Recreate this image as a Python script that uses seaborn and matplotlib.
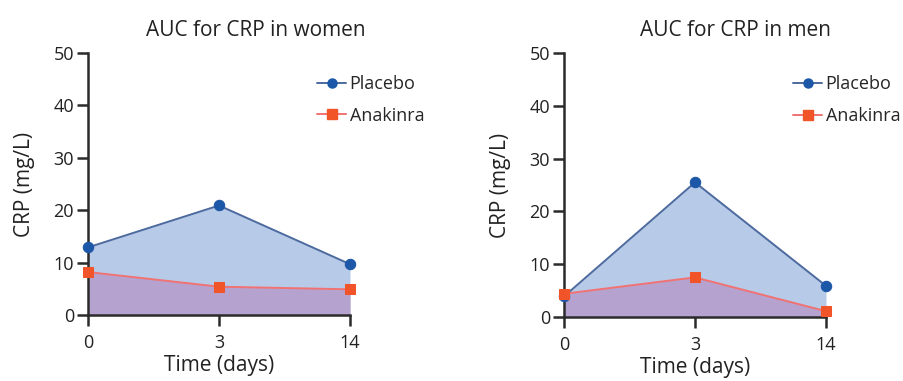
import numpy as np
import pandas as pd
import matplotlib
matplotlib.use("Agg")
import matplotlib.pyplot as plt
from matplotlib.lines import Line2D
import seaborn as sns

days = ["0", "3", "14"]
women_placebo = [12.9, 20.9, 9.7]
women_anakinra = [8.2, 5.4, 4.9]
men_placebo = [3.9, 25.5, 5.9]
men_anakinra = [4.4, 7.5, 1.1]
titles = ["AUC for CRP in women", "AUC for CRP in men"]
yticks = [0, 10, 20, 30, 40, 50]

sns.set_style("white")
plt.rcParams['font.family'] = ['Open Sans', 'DejaVu Sans']

fig = plt.figure(figsize=(9.04, 3.81), dpi=100)
W, H = 904, 381
boxes = [(88, 53, 350, 315), (564, 53, 826, 317)]
title_x = [0.64, 0.655]

fill_blue = "#b7cae8"
fill_purple = "#b6a2cf"
line_blue = "#4d6a9e"
mark_blue = "#1c57a8"
line_red = "#f07272"
mark_red = "#f2542a"
axcol = "#2b2b2b"
txt = "#222222"

for (x0, y0, x1, y1), title, tx, plc, ana in zip(
        boxes, titles, title_x, [women_placebo, men_placebo], [women_anakinra, men_anakinra]):
    ax = fig.add_axes([x0 / W, 1 - y1 / H, (x1 - x0) / W, (y1 - y0) / H])
    pos = np.arange(len(days))
    df = pd.DataFrame({"pos": np.concatenate([pos, pos]),
                       "crp": plc + ana,
                       "group": ["Placebo"] * 3 + ["Anakinra"] * 3})
    ax.fill_between(pos, 0, plc, color=fill_blue, zorder=1, lw=0)
    ax.fill_between(pos, 0, ana, color=fill_purple, zorder=2, lw=0)
    sns.lineplot(data=df, x="pos", y="crp", hue="group", style="group",
                 palette={"Placebo": line_blue, "Anakinra": line_red},
                 markers={"Placebo": "o", "Anakinra": "s"}, dashes=False,
                 markersize=7.5, linewidth=1.4, ax=ax, zorder=3, legend=False)
    for line in ax.lines:
        if line.get_color() == line_blue:
            line.set_markerfacecolor(mark_blue); line.set_markeredgecolor(mark_blue)
        else:
            line.set_markerfacecolor(mark_red); line.set_markeredgecolor(mark_red)
        line.set_clip_on(False)
    ax.set_xlim(0, 2)
    ax.set_ylim(0, 50)
    ax.set_xticks(pos)
    ax.set_xticklabels(days)
    ax.set_yticks(yticks)
    ax.tick_params(axis="both", direction="out", length=8, width=1.8, color=axcol,
                   labelsize=13, labelcolor=txt, left=True, bottom=True)
    ax.tick_params(axis="y", pad=2)
    ax.tick_params(axis="x", pad=6)
    for s in ["top", "right"]:
        ax.spines[s].set_visible(False)
    for s in ["left", "bottom"]:
        ax.spines[s].set_color(axcol)
        ax.spines[s].set_linewidth(1.8)
    ax.set_xlabel("Time (days)", fontsize=15, color=txt, labelpad=2)
    ax.set_ylabel("CRP (mg/L)", fontsize=15, color=txt, labelpad=13)
    ax.set_title(title, fontsize=15, color=txt, pad=12, x=tx)
    handles = [Line2D([], [], color=line_blue, marker="o", markersize=6.5,
                      markerfacecolor=mark_blue, markeredgecolor=mark_blue, lw=1.4),
               Line2D([], [], color=line_red, marker="s", markersize=6.5,
                      markerfacecolor=mark_red, markeredgecolor=mark_red, lw=1.4)]
    ax.legend(handles, ["Placebo", "Anakinra"], loc="upper left",
              bbox_to_anchor=(0.875, 0.915), frameon=False, fontsize=13,
              handlelength=1.6, handletextpad=0.2, labelspacing=0.75,
              borderaxespad=0, borderpad=0)

fig.savefig("out.png", dpi=100)
